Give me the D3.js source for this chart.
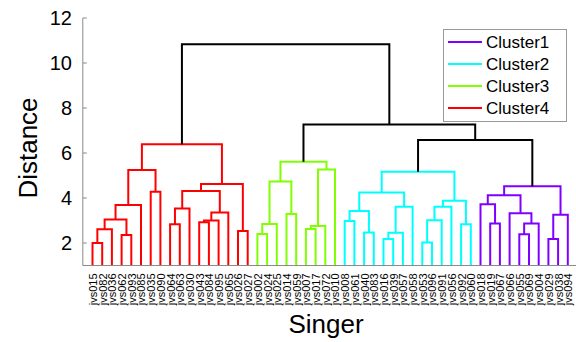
<!DOCTYPE html>
<html>
<head>
<meta charset="utf-8">
<script src="https://cdn.jsdelivr.net/npm/d3@7/dist/d3.min.js"></script>
<style>
html,body{margin:0;padding:0;background:#fff;}
svg{display:block;font-family:"Liberation Sans",Arial,Helvetica,sans-serif;}
</style>
</head>
<body>
<svg id="chart" width="576" height="342"></svg>
<script>
// Leaf labels in dendrogram order
const leaves = ["jvs015","jvs082","jvs036","jvs062","jvs093","jvs085","jvs035","jvs090","jvs064","jvs063","jvs030","jvs043","jvs084","jvs095","jvs065","jvs026","jvs027",
"jvs002","jvs024","jvs025","jvs014","jvs059","jvs007","jvs017","jvs072","jvs010",
"jvs008","jvs061","jvs040","jvs083","jvs016","jvs039","jvs057","jvs058","jvs053","jvs096","jvs091","jvs056","jvs092","jvs060",
"jvs018","jvs019","jvs067","jvs066","jvs055","jvs069","jvs004","jvs029","jvs038","jvs094"];
// Cluster of each leaf block
const clusterNames = ["Cluster1","Cluster2","Cluster3","Cluster4"];
const clusterColors = ["#8000ff","#00ffff","#80ff00","#ff0000"];
const leafCluster = [].concat(Array(17).fill(3), Array(9).fill(2), Array(14).fill(1), Array(10).fill(0));
// Links: [id, childA, childB, height]; numbers = 1-based leaf positions, strings = link ids
const links = [
 ["r1",1,2,2.00],["r2","r1",3,2.61],["r3",4,5,2.36],["r4","r2","r3",3.05],["r5","r4",6,3.69],
 ["r6",7,8,4.28],["r7","r5","r6",5.24],["r8",9,10,2.83],["r9","r8",11,3.53],["r10",12,13,2.92],
 ["r11","r10",14,3.00],["r12","r11",15,3.36],["r13","r9","r12",4.31],["r14",16,17,2.53],
 ["r15","r13","r14",4.62],["r16","r7","r15",6.39],
 ["g1",18,19,2.40],["g2","g1",20,2.84],["g3",21,22,3.29],["g4","g2","g3",4.73],["g5",23,24,2.62],
 ["g6","g5",25,2.76],["g7","g6",26,5.27],["g8","g4","g7",5.61],
 ["c1",27,28,2.98],["c2",29,30,2.47],["c3","c1","c2",3.42],["c4",31,32,2.18],["c5","c4",33,2.46],
 ["c6","c5",34,3.61],["c7","c3","c6",4.24],["c8",35,36,2.02],["c9","c8",37,3.01],["c10","c9",38,3.61],
 ["c11",39,40,2.83],["c12","c10","c11",3.88],["c13","c7","c12",5.17],
 ["p1",42,43,2.87],["p2",41,"p1",3.72],["p3",45,46,2.39],["p4","p3",47,2.87],["p5",44,"p4",3.32],
 ["p6","p2","p5",4.12],["p7",48,49,2.18],["p8","p7",50,3.26],["p9","p6","p8",4.52],
 ["k1","c13","p9",6.58],["k2","g8","k1",7.27],["k3","r16","k2",10.83]
];
const yTicks = [2,4,6,8,10,12];

const svg = d3.select("#chart");
const x = d3.scaleLinear().domain([0, leaves.length + 1]).range([82.8, 577.5]);
const y = d3.scaleLinear().domain([1, 12]).range([265.5, 18]);

// compute node positions / colors
const node = {};
const leafH = 0;
function get(c){
  if (typeof c === "number") return {x: c, h: leafH, color: clusterColors[leafCluster[c-1]], cl: leafCluster[c-1]};
  return node[c];
}
links.forEach(([id,a,b,h]) => {
  const A = get(a), B = get(b);
  const same = A.cl !== null && A.cl === B.cl;
  node[id] = {x: (A.x + B.x)/2, h: h, cl: same ? A.cl : null, color: same ? A.color : "#000", A, B};
});

const g = svg.append("g");
g.append("defs").append("clipPath").attr("id","clip").append("rect")
  .attr("x", x(0)).attr("y", y(12)-2).attr("width", x(51)-x(0)).attr("height", y(1)-y(12)+2);
const lg = g.append("g").attr("clip-path","url(#clip)");
links.forEach(([id]) => {
  const n = node[id];
  const yA = n.A.h === leafH ? y(1) + 5 : y(n.A.h);
  const yB = n.B.h === leafH ? y(1) + 5 : y(n.B.h);
  const p = `M${x(n.A.x)},${yA}V${y(n.h)}H${x(n.B.x)}V${yB}`;
  lg.append("path").attr("d", p).attr("fill","none").attr("stroke", n.color)
    .attr("stroke-width", 2).attr("stroke-linejoin","miter");
});

// axes
const axisColor = "#8a8a8a";
g.append("line").attr("x1", x(0)).attr("x2", x(0)).attr("y1", y(12)).attr("y2", y(1))
  .attr("stroke", axisColor).attr("stroke-width", 1);
g.append("line").attr("x1", x(0)).attr("x2", x(51)).attr("y1", y(1)).attr("y2", y(1))
  .attr("stroke", axisColor).attr("stroke-width", 1);
yTicks.forEach(t => {
  g.append("line").attr("x1", x(0)).attr("x2", x(0)+4).attr("y1", y(t)).attr("y2", y(t))
    .attr("stroke", axisColor).attr("stroke-width", 1);
  g.append("text").attr("x", 72).attr("y", y(t)).attr("dy","0.36em")
    .attr("text-anchor","end").attr("font-size", 20).attr("fill","#000").text(t);
});
leaves.forEach((name, i) => {
  g.append("text")
    .attr("transform", `translate(${x(i+1)+0.5},273.5) rotate(-90)`)
    .attr("text-anchor","end").attr("dy","0.36em")
    .attr("font-size", 11).attr("fill","#000").text(name);
});
g.append("text").attr("x", 326).attr("y", 333).attr("text-anchor","middle")
  .attr("font-size", 26).attr("fill","#000").text("Singer");
g.append("text").attr("transform","translate(37,148) rotate(-90)").attr("text-anchor","middle")
  .attr("font-size", 26).attr("fill","#000").text("Distance");

// legend
const leg = g.append("g");
leg.append("rect").attr("x", 443.5).attr("y", 29.5).attr("width", 123).attr("height", 92)
  .attr("fill","#fff").attr("stroke", "#999").attr("stroke-width", 1);
clusterNames.forEach((nm, i) => {
  const yy = 42 + i*22;
  leg.append("line").attr("x1", 448).attr("x2", 482).attr("y1", yy).attr("y2", yy)
    .attr("stroke", clusterColors[i]).attr("stroke-width", 2);
  leg.append("text").attr("x", 486).attr("y", yy).attr("dy","0.36em")
    .attr("font-size", 17).attr("fill","#000").text(nm);
});
</script>
</body>
</html>
